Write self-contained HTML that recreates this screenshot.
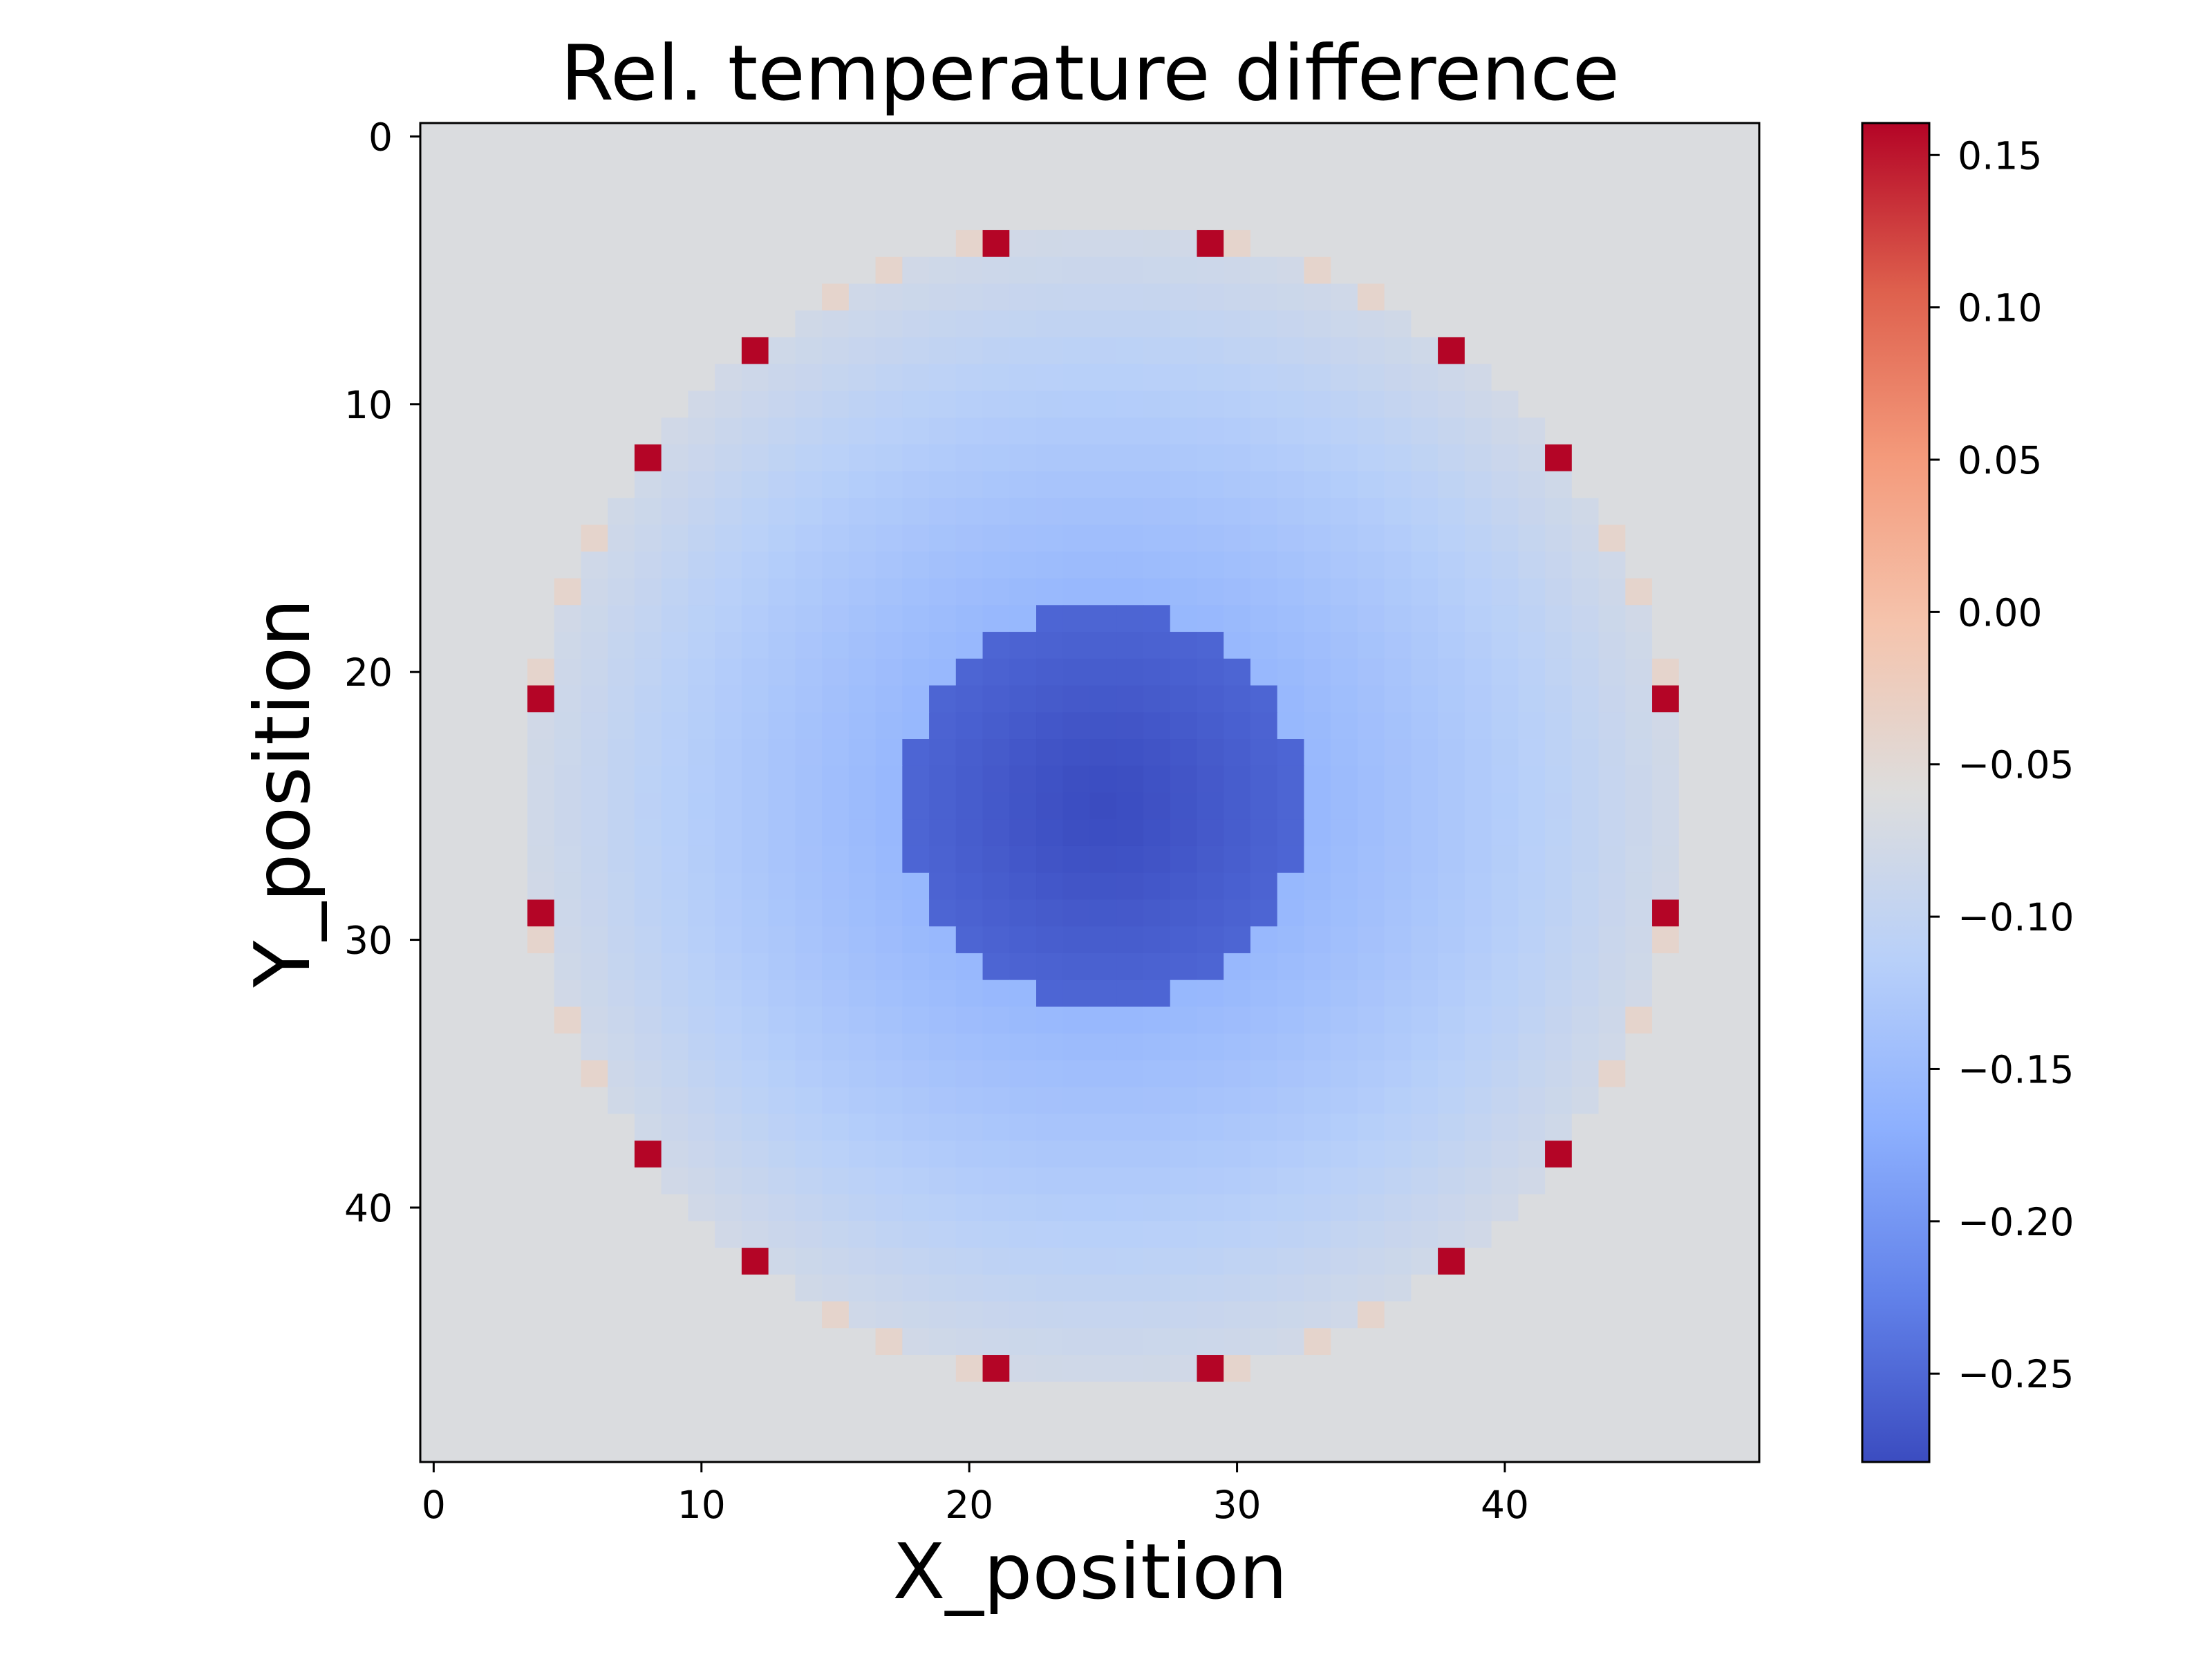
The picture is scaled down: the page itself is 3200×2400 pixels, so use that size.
<!DOCTYPE html>
<html><head><meta charset="utf-8"><style>
html,body{margin:0;padding:0;background:#fff;}
svg{display:block;}
text{font-family:"DejaVu Sans","Liberation Sans",sans-serif;fill:#000;}
</style></head><body>
<svg id="chart" width="3200" height="2400" viewBox="0 0 3200 2400" xmlns="http://www.w3.org/2000/svg">
<defs>
<linearGradient id="cw" x1="0" y1="1" x2="0" y2="0">
<stop offset="0" stop-color="rgb(59,76,192)"/>
<stop offset="0.125" stop-color="rgb(98,130,234)"/>
<stop offset="0.25" stop-color="rgb(141,176,254)"/>
<stop offset="0.375" stop-color="rgb(184,208,249)"/>
<stop offset="0.5" stop-color="rgb(221,221,221)"/>
<stop offset="0.625" stop-color="rgb(245,196,173)"/>
<stop offset="0.75" stop-color="rgb(244,154,123)"/>
<stop offset="0.875" stop-color="rgb(222,96,77)"/>
<stop offset="1" stop-color="rgb(180,4,38)"/>
</linearGradient>
</defs>
<text x="1577" y="144" font-size="111" text-anchor="middle">Rel. temperature difference</text>
<g id="cells"></g>
<rect x="608" y="178" width="1937" height="1937" fill="none" stroke="#000" stroke-width="3"/>
<g id="xticks"></g>
<g id="yticks"></g>
<text x="1577" y="2312" font-size="111" text-anchor="middle">X_position</text>
<text x="0" y="0" font-size="111" text-anchor="middle" transform="translate(447,1147) rotate(-90)">Y_position</text>
<rect x="2694" y="178" width="97" height="1937" fill="url(#cw)" stroke="#000" stroke-width="3"/>
<g id="cticks"></g>
</svg>
<script>
// ---- data ----
const gridSize = 50;
const centerCol = 25;
const centerRow = 25;
const circleRadius = 21.4;
const innerRadius = 7.5;
const backgroundValue = -0.064;
// radial profile of values, indexed by integer distance from center
const innerProfile = [-0.279, -0.277, -0.274, -0.270, -0.266, -0.262, -0.258, -0.254, -0.252];
const outerProfile = [-0.16, -0.16, -0.16, -0.16, -0.16, -0.16, -0.16, -0.158, -0.155, -0.150, -0.145, -0.140, -0.135, -0.130, -0.125, -0.120, -0.114, -0.108, -0.101, -0.094, -0.087, -0.080, -0.076];
const hotCols = [21, 29, 12, 38, 8, 42, 4, 46, 4, 46, 8, 42, 12, 38, 21, 29];
const hotRows = [4, 4, 8, 8, 12, 12, 21, 21, 29, 29, 38, 38, 42, 42, 46, 46];
const hotValue = 0.16;
const warmCols = [20, 30, 17, 33, 15, 35, 6, 44, 5, 45, 4, 46, 4, 46, 5, 45, 6, 44, 15, 35, 17, 33, 20, 30];
const warmRows = [4, 4, 5, 5, 6, 6, 15, 15, 17, 17, 20, 20, 30, 30, 33, 33, 35, 35, 44, 44, 45, 45, 46, 46];
const warmValue = -0.04;
const xTicks = [0, 10, 20, 30, 40];
const yTicks = [0, 10, 20, 30, 40];
const cbTicks = [0.15, 0.10, 0.05, 0.00, -0.05, -0.10, -0.15, -0.20, -0.25];
const cbTickLabels = ["0.15", "0.10", "0.05", "0.00", "\u22120.05", "\u22120.10", "\u22120.15", "\u22120.20", "\u22120.25"];
const vmin = -0.279, vmax = 0.1605;

// ---- scales ----
const X0 = 608, Y0 = 178, W = 1937;
const cell = W / gridSize;
const xs = c => X0 + c * cell;
const ys = r => Y0 + r * cell;
const cbTop = 178, cbBot = 2115;
const cy = v => cbBot - (v - vmin) / (vmax - vmin) * (cbBot - cbTop);

const stops = [[59,76,192],[98,130,234],[141,176,254],[184,208,249],[221,221,221],[245,196,173],[244,154,123],[222,96,77],[180,4,38]];
function cmap(v){
  let t = Math.max(0, Math.min(1, (v - vmin) / (vmax - vmin)));
  let p = t * 8, i = Math.min(7, Math.floor(p)), f = p - i;
  const a = stops[i], b = stops[i+1];
  return 'rgb(' + a.map((x,k)=>Math.round(x + (b[k]-x)*f)).join(',') + ')';
}
function lerp(arr, d){
  const i = Math.min(arr.length - 2, Math.floor(d)), f = Math.min(1, d - i);
  return arr[i] + (arr[i+1] - arr[i]) * f;
}
function valueAt(c, r){
  for (let k = 0; k < hotCols.length; k++) if (hotCols[k] === c && hotRows[k] === r) return hotValue;
  for (let k = 0; k < warmCols.length; k++) if (warmCols[k] === c && warmRows[k] === r) return warmValue;
  const d = Math.hypot(c - centerCol, r - centerRow);
  if (d < innerRadius) return lerp(innerProfile, d);
  if (d <= circleRadius) return lerp(outerProfile, d);
  return backgroundValue;
}
const NS = 'http://www.w3.org/2000/svg';
function mk(tag, attrs, parent){
  const e = document.createElementNS(NS, tag);
  for (const k in attrs) e.setAttribute(k, attrs[k]);
  parent.appendChild(e); return e;
}
const cellsG = document.getElementById('cells');
for (let r = 0; r < gridSize; r++) for (let c = 0; c < gridSize; c++){
  const el = mk('rect', {x: xs(c).toFixed(2), y: ys(r).toFixed(2), width: (cell+0.6).toFixed(2), height: (cell+0.6).toFixed(2), fill: cmap(valueAt(c, r))}, cellsG);
  
  
}
const xg = document.getElementById('xticks');
xTicks.forEach(t => {
  const x = xs(t + 0.5);
  const l = mk('line', {x1: x, x2: x, y1: 2115, y2: 2130, stroke: '#000', 'stroke-width': 3}, xg);
  
  
  const tx = mk('text', {x: x, y: 2196, 'font-size': 55, 'text-anchor': 'middle'}, xg);
  tx.textContent = String(t);
  
  
});
const yg = document.getElementById('yticks');
yTicks.forEach(t => {
  const y = ys(t + 0.5);
  const l = mk('line', {x1: 593, x2: 608, y1: y, y2: y, stroke: '#000', 'stroke-width': 3}, yg);
  
  
  const tx = mk('text', {x: 568, y: y + 20, 'font-size': 55, 'text-anchor': 'end'}, yg);
  tx.textContent = String(t);
  
  
});
const cg = document.getElementById('cticks');
cbTicks.forEach((t, i) => {
  const y = cy(t);
  const l = mk('line', {x1: 2791, x2: 2806, y1: y, y2: y, stroke: '#000', 'stroke-width': 3}, cg);
  
  
  const tx = mk('text', {x: 2832, y: y + 20, 'font-size': 55}, cg);
  tx.textContent = cbTickLabels[i];
  
  
});
</script>
</body></html>
